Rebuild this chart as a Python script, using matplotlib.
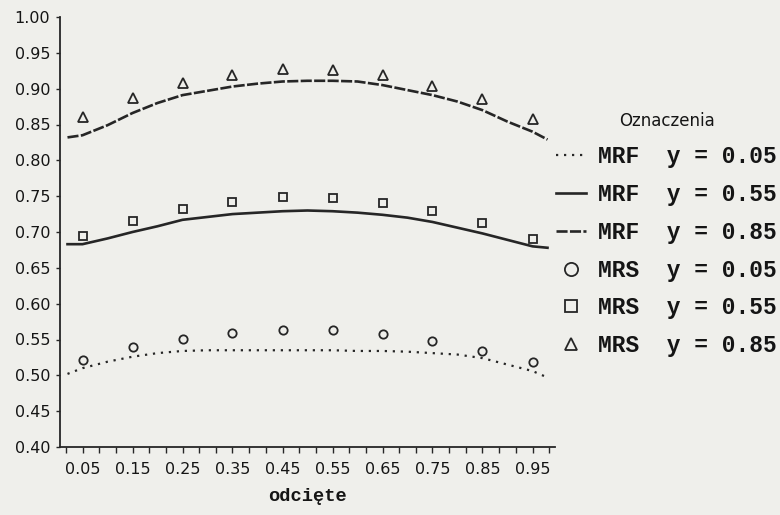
import matplotlib
matplotlib.use('Agg')
import matplotlib.pyplot as plt
import numpy as np
from matplotlib.lines import Line2D
from matplotlib.font_manager import FontProperties

# ---------------- data ----------------
x_points = [0.05, 0.15, 0.25, 0.35, 0.45, 0.55, 0.65, 0.75, 0.85, 0.95]
x_labels = ["0.05", "0.15", "0.25", "0.35", "0.45", "0.55", "0.65", "0.75", "0.85", "0.95"]

mrs_005 = [0.521, 0.539, 0.551, 0.559, 0.563, 0.563, 0.557, 0.548, 0.534, 0.518]
mrs_055 = [0.694, 0.716, 0.732, 0.742, 0.749, 0.747, 0.741, 0.729, 0.713, 0.690]
mrs_085 = [0.860, 0.887, 0.908, 0.919, 0.927, 0.926, 0.919, 0.904, 0.886, 0.858]

curve_x = [0.02, 0.05, 0.10, 0.15, 0.20, 0.25, 0.30, 0.35, 0.40, 0.45, 0.50,
           0.55, 0.60, 0.65, 0.70, 0.75, 0.80, 0.85, 0.90, 0.95, 0.98]
mrf_005 = [0.502, 0.510, 0.519, 0.526, 0.531, 0.534, 0.535, 0.535, 0.535, 0.535, 0.535,
           0.535, 0.534, 0.534, 0.533, 0.531, 0.529, 0.524, 0.515, 0.506, 0.497]
mrf_055 = [0.683, 0.683, 0.691, 0.700, 0.708, 0.717, 0.721, 0.725, 0.727, 0.729, 0.730,
           0.729, 0.727, 0.724, 0.720, 0.714, 0.706, 0.698, 0.689, 0.680, 0.678]
mrf_085 = [0.832, 0.835, 0.849, 0.866, 0.880, 0.891, 0.897, 0.903, 0.907, 0.910, 0.911,
           0.911, 0.910, 0.905, 0.898, 0.891, 0.882, 0.870, 0.854, 0.840, 0.829]

y_ticks = [0.40, 0.45, 0.50, 0.55, 0.60, 0.65, 0.70, 0.75, 0.80, 0.85, 0.90, 0.95, 1.00]

legend_labels = ["MRF  y = 0.05", "MRF  y = 0.55", "MRF  y = 0.85",
                 "MRS  y = 0.05", "MRS  y = 0.55", "MRS  y = 0.85"]
legend_title = "Oznaczenia"
x_title = "odcięte"

# ---------------- style ----------------
BG = '#efefeb'
INK = '#262626'
TXT = '#151515'
DOT = (0, (1.0, 2.6))
DASH = (0, (4.2, 0.9))

fig = plt.figure(figsize=(7.8, 5.15), dpi=100, facecolor=BG)
ax = fig.add_axes([60 / 780, 68 / 515, 495 / 780, 430 / 515])
ax.set_facecolor('none')
ax.set_xlim(0.005, 0.995)
ax.set_ylim(0.40, 1.00)

for s in ['top', 'right']:
    ax.spines[s].set_visible(False)
for s in ['left', 'bottom']:
    ax.spines[s].set_color(INK)
    ax.spines[s].set_linewidth(1.3)

# curves
ax.plot(curve_x, mrf_005, color=INK, lw=1.6, ls=DOT)
ax.plot(curve_x, mrf_055, color=INK, lw=1.9, ls='-')
ax.plot(curve_x, mrf_085, color=INK, lw=1.9, ls=DASH)

# markers
mk = dict(ls='none', mfc='none', mec=INK, mew=1.3)
ax.plot(x_points, mrs_005, marker='o', ms=6, **mk)
ax.plot(x_points, mrs_055, marker='s', ms=5.5, **mk)
ax.plot(x_points, mrs_085, marker='^', ms=7, **mk)

# ticks
ax.set_yticks(y_ticks)
ax.set_yticklabels([f"{v:.2f}" for v in y_ticks])
ax.set_xticks(x_points)
ax.set_xticklabels(x_labels)
minor = [0.05 + k / 30 for k in range(-1, 29)]
ax.set_xticks(minor, minor=True)

for lab in ax.get_xticklabels() + ax.get_yticklabels():
    lab.set_fontfamily('DejaVu Sans')
    lab.set_fontsize(11.5)
    lab.set_color(TXT)

ax.tick_params(axis='y', length=3, width=1, pad=4, colors=INK)
ax.tick_params(axis='x', which='both', length=4, width=1, pad=7, colors=INK)
for lab in ax.get_xticklabels() + ax.get_yticklabels():
    lab.set_color(TXT)

ax.set_xlabel(x_title, fontfamily='Liberation Mono', fontweight='bold',
              fontsize=13.5, color=TXT, labelpad=8)

# legend
handles = [
    Line2D([], [], color=INK, lw=1.6, ls=DOT),
    Line2D([], [], color=INK, lw=1.9, ls='-'),
    Line2D([], [], color=INK, lw=1.9, ls=DASH),
    Line2D([], [], marker='o', ms=9.5, **mk),
    Line2D([], [], marker='s', ms=9, **mk),
    Line2D([], [], marker='^', ms=9, **mk),
]
leg = ax.legend(handles=handles, labels=legend_labels, loc='upper left',
                bbox_to_anchor=(556 / 780, 1 - 112 / 515),
                bbox_transform=fig.transFigure, frameon=False,
                prop=FontProperties(family='Liberation Mono', weight='bold', size=16.5),
                title=legend_title,
                title_fontproperties=FontProperties(family='DejaVu Sans', size=12),
                handlelength=1.3, handletextpad=0.55, labelspacing=0.65,
                borderpad=0, borderaxespad=0)
for t in leg.get_texts():
    t.set_color(TXT)
leg.get_title().set_color(TXT)

fig.savefig('out.png', dpi=100, facecolor=BG)
